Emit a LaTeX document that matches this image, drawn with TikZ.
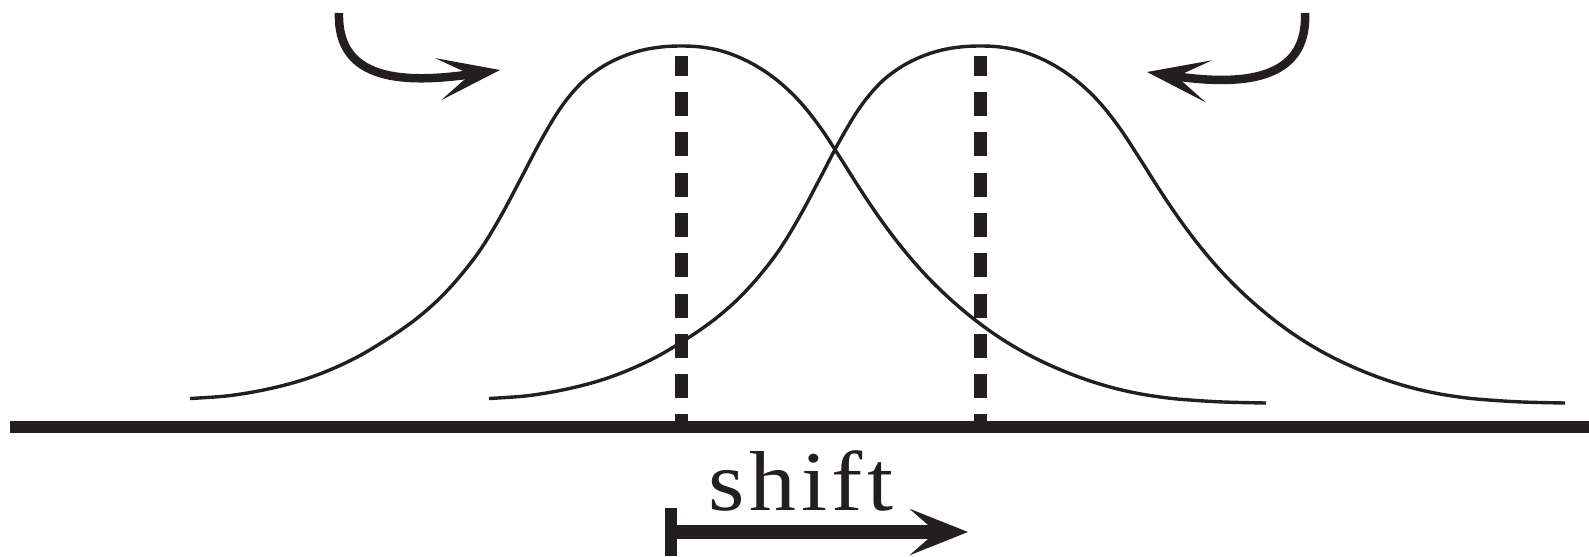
\documentclass[tikz,border=0pt]{standalone}
\usepackage{fontspec}
\usetikzlibrary{arrows.meta}
\definecolor{tinte}{HTML}{231F20}
\newfontfamily\schrift{Liberation Serif}[LetterSpace=5]
\newcommand{\beschrift}{\fontsize{24.2}{29}\selectfont\schrift}
\tikzset{achse/.style={tinte,line width=1.2mm},
  mittellinie/.style={tinte,line width=1.3mm,dash pattern=on 2.4mm off 1.63mm,dash phase=0.43mm},
  kurve/.style={tinte,line width=0.34mm,line join=round},
  bogenpfeil/.style={tinte,line width=0.85mm,-{Stealth[length=6.2mm,width=4.2mm,inset=3.2mm]}},
  verschiebung/.style={tinte,line width=1.45mm,
    {Bar[width=4.8mm,line width=1.2mm]}-{Stealth[length=5.8mm,width=4.6mm,inset=2.6mm]}}}
% Glockenkurve um die Mitte #1 (Pixelmass, y nach unten)
\newcommand{\glocke}[1]{\draw[kurve,shift={(#1,0)}] plot[smooth,tension=0.6] coordinates {
  (-491,398.5) (-460,396.5) (-440,394) (-420,390.5) (-400,386) (-380,380.5) (-360,373.5)
  (-340,365) (-320,355) (-300,343) (-280,330) (-260,315) (-240,297) (-220,275) (-200,248.8)
  (-180,215.8) (-160,178.3) (-140,140.3) (-120,107.3) (-100,83.3) (-80,67.6) (-60,57.2)
  (-40,50.5) (-20,47) (0,46) (20,47) (40,50.8) (60,58.1) (80,68.8) (100,83.5) (120,103)
  (140,128.5) (160,159) (180,190.5) (200,220) (220,246.5) (240,270) (260,290.5) (280,308.5)
  (300,324.5) (320,338.5) (340,350.6) (360,361) (380,370) (400,377.8) (420,384.4)
  (440,389.8) (460,394) (480,397.1) (500,399.3) (540,401.9) (585,403)};}

\begin{document}
\begin{tikzpicture}[x=0.1mm,y=-0.1mm]
\useasboundingbox (0,0) rectangle (1589,556);
% zwei gleiche Glocken, die rechte um "shift" verschoben; Mittellinien gestrichelt
\glocke{681}
\glocke{980}
\coordinate (gipfelL) at (681,56);
\coordinate (fussL) at (681,427);
\coordinate (gipfelR) at (980,56);
\coordinate (fussR) at (980,427);
\draw[mittellinie] (gipfelL) -- (fussL);
\draw[mittellinie] (gipfelR) -- (fussR);
\coordinate (achseA) at (10,427);
\coordinate (achseB) at (1589,427);
\draw[achse] (achseA) -- (achseB);
% Bogenpfeile oben
\coordinate (bogenLa) at (339,13);
\coordinate (bogenLb) at (500,70);
\coordinate (bogenRa) at (1305,13);
\coordinate (bogenRb) at (1147,72);
\draw[bogenpfeil] (bogenLa) .. controls (337,82) and (405,84) .. (bogenLb);
\draw[bogenpfeil] (bogenRa) .. controls (1308,82) and (1240,86) .. (bogenRb);
% Verschiebung unten
\node[inner sep=0,anchor=base west,xscale=1.1,text=tinte,font=\beschrift] (shift) at (708,510) {shift};
\coordinate (schubA) at (665,532);
\coordinate (schubB) at (968,532);
\draw[verschiebung] (schubA) -- (schubB);
\end{tikzpicture}
\end{document}
